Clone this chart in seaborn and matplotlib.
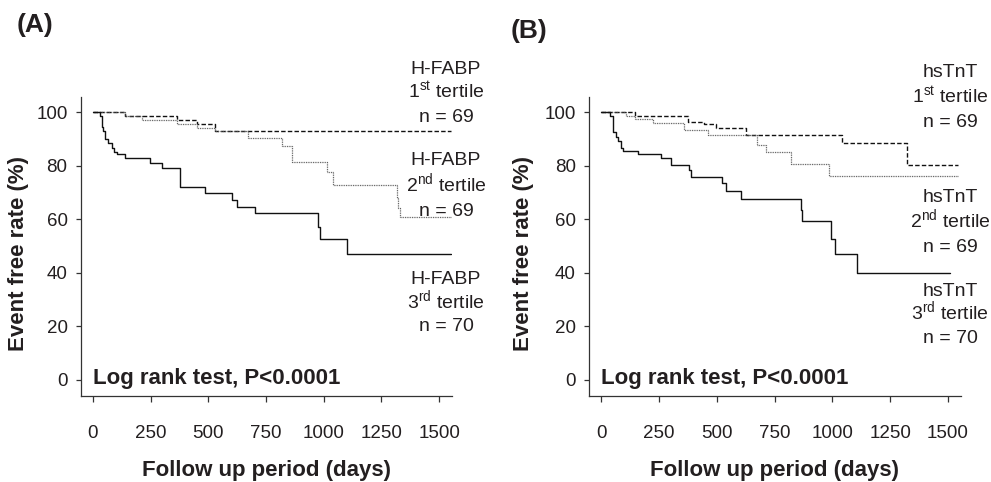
import numpy as np
import pandas as pd
import matplotlib
matplotlib.use("Agg")
import matplotlib.pyplot as plt
import seaborn as sns

# ---------------- data ----------------
# Panel A: H-FABP tertiles
a1_days = [0, 139, 363, 449, 529, 1550]
a1_surv = [100, 98.55, 97.1, 95.65, 92.75, 92.75]

a2_days = [0, 139, 211, 363, 449, 529, 673, 818, 861, 1013, 1042, 1316, 1323, 1330, 1550]
a2_surv = [100, 98.55, 97.1, 95.65, 94.2, 92.75, 90.2, 87.3, 81.5, 77.7, 72.8, 68.0, 64.0, 60.9, 60.9]

a3_days = [0, 30, 38, 45, 52, 65, 81, 90, 103, 139, 247, 298, 377, 486, 601, 623, 702, 977, 984, 1100, 1550]
a3_surv = [100, 98.6, 94.3, 92.9, 90.0, 88.6, 86.4, 85.0, 84.3, 82.7, 80.8, 79.0, 72.1, 69.7, 67.2, 64.7, 62.2, 57.2, 52.5, 47.0, 47.0]

# Panel B: hsTnT tertiles
b1_days = [0, 144, 374, 445, 496, 625, 1042, 1322, 1545]
b1_surv = [100, 98.4, 96.4, 95.5, 93.9, 91.4, 88.6, 80.2, 80.2]

b2_days = [0, 108, 144, 223, 359, 460, 675, 711, 819, 984, 1545]
b2_surv = [100, 98.5, 97.3, 95.8, 93.3, 91.4, 87.7, 85.2, 80.6, 76.1, 76.1]

b3_days = [0, 36, 50, 65, 72, 86, 93, 158, 259, 302, 381, 388, 524, 539, 603, 862, 869, 994, 1013, 1106, 1509]
b3_surv = [100, 98.6, 92.7, 90.8, 89.0, 86.4, 85.5, 84.2, 82.7, 80.2, 78.4, 75.6, 73.4, 70.6, 67.4, 63.4, 59.4, 52.5, 47.0, 39.8, 39.8]

x_ticks = [0, 250, 500, 750, 1000, 1250, 1500]
y_ticks = [0, 20, 40, 60, 80, 100]

a_labels = [("H-FABP", "1$^{\\mathrm{st}}$ tertile", "n = 69"),
            ("H-FABP", "2$^{\\mathrm{nd}}$ tertile", "n = 69"),
            ("H-FABP", "3$^{\\mathrm{rd}}$ tertile", "n = 70")]
b_labels = [("hsTnT", "1$^{\\mathrm{st}}$ tertile", "n = 69"),
            ("hsTnT", "2$^{\\mathrm{nd}}$ tertile", "n = 69"),
            ("hsTnT", "3$^{\\mathrm{rd}}$ tertile", "n = 70")]

# ---------------- style ----------------
sns.set_style("ticks")
plt.rcParams["font.family"] = ["Liberation Sans", "DejaVu Sans"]
plt.rcParams["mathtext.fontset"] = "custom"
plt.rcParams["mathtext.rm"] = "Liberation Sans"
plt.rcParams["mathtext.it"] = "Liberation Sans:italic"
plt.rcParams["mathtext.bf"] = "Liberation Sans:bold"

TXT = "#231f20"
W, H = 991, 482
fig = plt.figure(figsize=(W / 100, H / 100), dpi=100)


def px_axes(l, t, r, b):
    return fig.add_axes([l / W, 1 - b / H, (r - l) / W, (b - t) / H])


def make_df(days, surv, name):
    return pd.DataFrame({"day": days, "surv": surv, "group": name})


styles = {
    "t1": dict(color="#111111", lw=1.0, dashes=(3.2, 1.6)),
    "t2": dict(color="#555555", lw=0.9, dashes=(0.7, 0.7)),
    "t3": dict(color="#111111", lw=1.0, dashes=None),
}

LBL = 16


def draw_panel(ax, series, ylab_x):
    for key, (d, s) in series.items():
        df = make_df(d, s, key)
        st = styles[key]
        line_ax = sns.lineplot(data=df, x="day", y="surv", ax=ax, estimator=None,
                               sort=False, drawstyle="steps-post",
                               color=st["color"], linewidth=st["lw"])
        ln = line_ax.get_lines()[-1]
        if st["dashes"] is not None:
            ln.set_dashes(st["dashes"])
    ax.set_xlim(-53, 1556)
    ax.set_ylim(-6, 105.6)
    ax.set_xticks(x_ticks)
    ax.set_yticks(y_ticks)
    ax.tick_params(axis="x", length=4, width=0.9, pad=17, labelsize=13.5,
                   colors="#333333", labelcolor=TXT)
    ax.tick_params(axis="y", length=3.5, width=0.9, pad=6, labelsize=13.5,
                   colors="#333333", labelcolor=TXT)
    for sp in ["top", "right"]:
        ax.spines[sp].set_visible(False)
    for sp in ["left", "bottom"]:
        ax.spines[sp].set_linewidth(0.9)
        ax.spines[sp].set_color("#333333")
    ax.set_xlabel("Follow up period (days)", fontsize=LBL, fontweight="bold", color=TXT)
    ax.set_ylabel("Event free rate (%)", fontsize=LBL, fontweight="bold", color=TXT)
    ax.xaxis.set_label_coords(0.5, -0.215)
    ax.yaxis.set_label_coords(ylab_x, 0.475)
    ax.text(0, 0.5, "Log rank test, P<0.0001", fontsize=LBL, fontweight="bold",
            color=TXT, ha="left", va="center")


axA = px_axes(80.7, 97, 452, 396)
draw_panel(axA, {"t1": (a1_days, a1_surv), "t2": (a2_days, a2_surv),
                 "t3": (a3_days, a3_surv)}, -0.138)
axB = px_axes(589, 97, 961, 396)
draw_panel(axB, {"t1": (b1_days, b1_surv), "t2": (b2_days, b2_surv),
                 "t3": (b3_days, b3_surv)}, -0.148)


def ftext(x, y, s, **kw):
    fig.text(x / W, 1 - y / H, s, **kw)


ftext(17, 25, "(A)", fontsize=19, fontweight="bold", color=TXT, ha="left", va="center")
ftext(511, 31, "(B)", fontsize=19, fontweight="bold", color=TXT, ha="left", va="center")

# label line centres (pixels); text is placed on its baseline
a_ys = [(67, 91, 115), (158, 184, 209), (277, 301, 324)]
for lab, ys in zip(a_labels, a_ys):
    for line, y in zip(lab, ys):
        ftext(446, y + 7, line, fontsize=14, color=TXT, ha="center", va="baseline")

b_ys = [(70, 96, 120), (195, 220, 245), (289, 312, 336)]
for lab, ys in zip(b_labels, b_ys):
    for line, y in zip(lab, ys):
        ftext(950, y + 7, line, fontsize=14, color=TXT, ha="center", va="baseline")

fig.savefig("out.png", dpi=100, facecolor="white")
